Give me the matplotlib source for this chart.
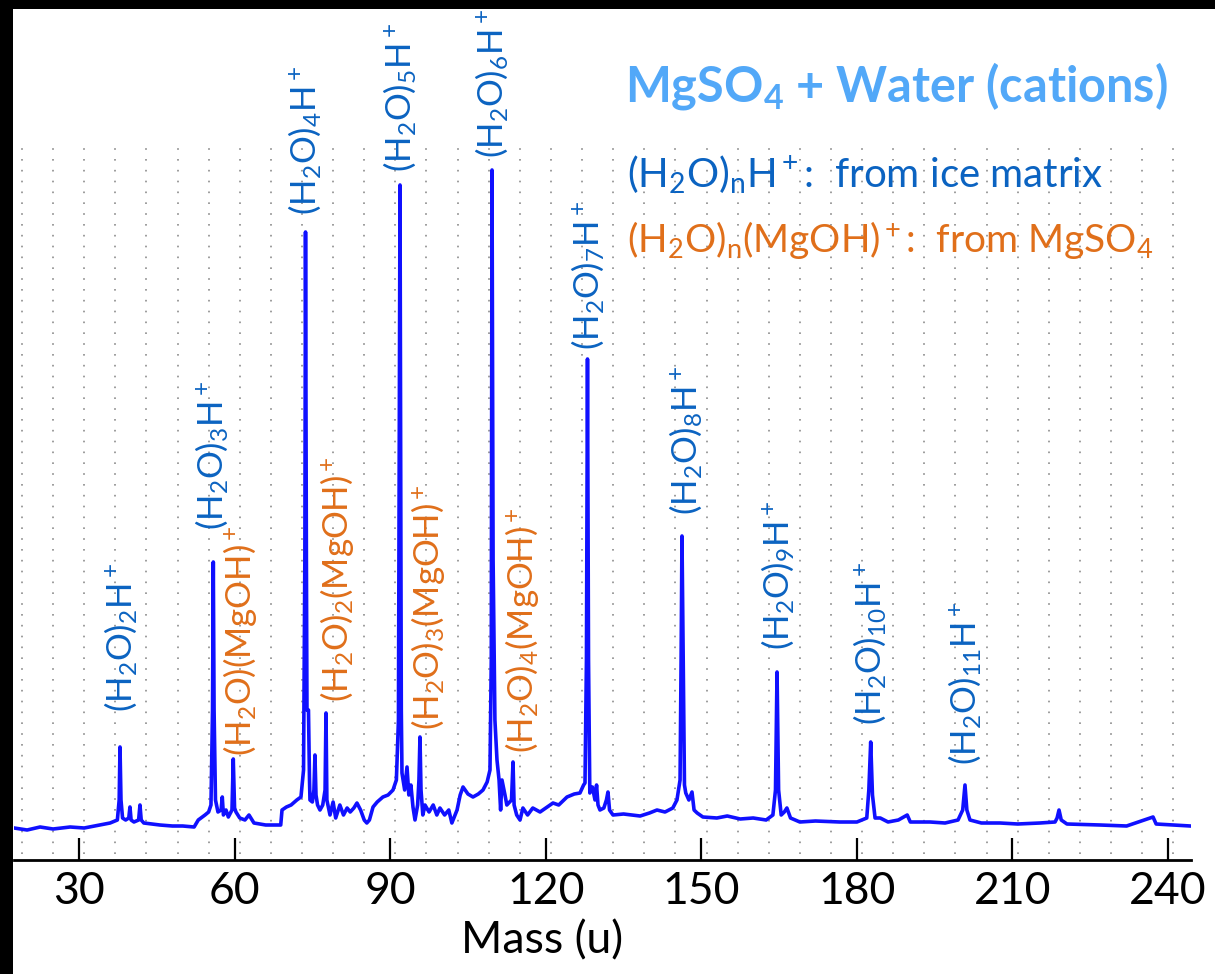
"""
MgSO4 + water ice, cation mass spectrum with labelled cluster peaks.
Output: out.png
"""

import matplotlib
matplotlib.use("Agg")
import matplotlib.pyplot as plt
from matplotlib.patches import Rectangle

plt.rcParams["font.family"] = ["Lato", "DejaVu Sans"]
plt.rcParams["mathtext.fontset"] = "custom"
plt.rcParams["mathtext.rm"] = "Lato"
plt.rcParams["mathtext.it"] = "Lato:italic"
plt.rcParams["mathtext.bf"] = "Lato:bold"
plt.rcParams["mathtext.default"] = "rm"

BLUE_TEXT = "#0b63c1"
ORANGE_TEXT = "#e06f1a"
TITLE = "#52a8f8"
TRACE = "#1010ff"
GRID = "#8c8c8c"

# spectrum trace (mass in u, intensity arb.)
trace_mass = [
    17.5, 20.0, 22.5, 25.0, 28.3, 31.0, 34.0, 36.0, 37.4, 37.75, 37.91, 38.1,
    38.4, 39.0, 39.6, 39.83, 40.05, 40.6, 41.5, 41.76, 42.0, 42.5, 45.6, 48.0,
    50.0, 52.2, 53.0, 54.3, 55.0, 55.45, 55.75, 55.9, 56.05, 56.32, 56.8, 57.4,
    57.63, 57.85, 58.35, 58.8, 59.5, 59.75, 60.0, 60.27, 61.0, 62.0, 62.78,
    63.74, 66.0, 68.9, 69.15, 70.0, 70.9, 72.0, 72.8, 73.3, 73.55, 73.68,
    73.85, 73.96, 74.25, 74.45, 74.54, 75.0, 75.3, 75.5, 75.7, 76.0, 76.47,
    77.0, 77.45, 77.63, 77.8, 78.4, 79.0, 79.5, 80.3, 81.0, 81.7, 82.3, 83.0,
    83.6, 84.3, 85.0, 85.5, 86.0, 86.7, 87.5, 88.6, 89.6, 90.55, 91.2, 91.6,
    91.9, 92.15, 92.28, 92.8, 93.25, 93.6, 94.0, 94.4, 94.79, 95.3, 95.55,
    95.75, 95.95, 96.3, 96.72, 97.5, 98.3, 99.0, 99.6, 100.5, 101.3, 101.9,
    102.9, 103.5, 104.05, 105.0, 105.97, 107.0, 107.9, 108.7, 109.25, 109.5,
    109.64, 109.85, 110.2, 110.6, 111.0, 111.3, 111.56, 112.14, 112.5, 113.4,
    113.69, 113.9, 114.4, 115.04, 115.6, 116.5, 117.5, 118.9, 120.0, 121.4,
    122.5, 124.1, 125.5, 126.6, 127.3, 127.57, 127.85, 128.05, 128.25, 128.5,
    129.0, 129.5, 129.8, 130.08, 130.46, 131.2, 131.7, 132.0, 132.3, 132.97,
    135.0, 138.2, 140.0, 141.45, 143.0, 144.5, 145.3, 145.9, 146.1, 146.27,
    146.5, 146.75, 147.0, 147.6, 148.2, 148.6, 149.2, 150.3, 153.0, 155.0,
    157.5, 160.0, 162.5, 163.8, 164.3, 164.6, 164.9, 165.4, 166.0, 166.5,
    167.2, 169.0, 172.0, 176.7, 180.0, 181.9, 182.3, 182.66, 183.0, 183.5,
    184.5, 186.0, 188.0, 189.7, 190.3, 194.1, 197.0, 199.5, 200.4, 200.84,
    201.2, 201.8, 204.0, 207.6, 211.0, 215.3, 218.2, 218.6, 218.97, 219.4,
    220.5, 226.9, 232.0, 237.1, 237.7, 241.0, 244.3,
]
trace_int = [
    32, 30, 33, 31, 33, 32, 35, 37, 40, 60, 113, 60,
    42, 40, 42, 53, 40, 38, 40, 55, 40, 37, 35, 34,
    34, 33, 40, 45, 48, 55, 150, 298, 150, 60, 48, 50,
    63, 45, 50, 43, 50, 101, 52, 48, 42, 40, 45,
    37, 35, 35, 50, 53, 55, 60, 63, 90, 300, 628,
    300, 150, 150, 80, 60, 58, 70, 105, 65, 55, 50,
    55, 70, 147, 60, 45, 58, 42, 55, 45, 52, 48, 52,
    57, 50, 40, 37, 40, 53, 58, 63, 65, 70, 80, 140,
    675, 150, 87, 70, 93, 65, 75, 53, 40, 55, 80,
    123, 70, 45, 55, 48, 55, 45, 52, 45, 50, 37,
    50, 65, 73, 66, 63, 66, 70, 78, 90, 200,
    690, 300, 140, 100, 80, 50, 80, 65, 55, 60,
    98, 55, 45, 40, 52, 45, 52, 48, 52, 57,
    55, 63, 66, 67, 75, 77, 200, 501, 200, 67,
    73, 60, 75, 55, 50, 52, 60, 68, 50, 45,
    46, 44, 47, 50, 48, 52, 60, 80, 200, 324,
    200, 75, 67, 60, 68, 50, 47, 43, 42, 44,
    41, 42, 40, 45, 70, 188, 70, 45, 48, 52,
    42, 38, 39, 38, 38, 42, 70, 118, 65, 42,
    42, 38, 40, 45, 38, 38, 37, 40, 50, 75,
    50, 40, 37, 37, 36, 37, 38, 42, 50, 40,
    36, 35, 34, 43, 36, 35, 34,
]

# peak labels: text, mass position, height of label base, which family
label_text = [
    r"(H$_2$O)$_2$H$^+$", r"(H$_2$O)$_3$H$^+$", r"(H$_2$O)(MgOH)$^+$",
    r"(H$_2$O)$_4$H$^+$", r"(H$_2$O)$_2$(MgOH)$^+$", r"(H$_2$O)$_5$H$^+$",
    r"(H$_2$O)$_3$(MgOH)$^+$", r"(H$_2$O)$_6$H$^+$", r"(H$_2$O)$_4$(MgOH)$^+$",
    r"(H$_2$O)$_7$H$^+$", r"(H$_2$O)$_8$H$^+$", r"(H$_2$O)$_9$H$^+$",
    r"(H$_2$O)$_{10}$H$^+$", r"(H$_2$O)$_{11}$H$^+$",
]
label_mass = [38.1, 55.6, 61.0, 73.6, 79.75, 91.9, 97.3, 109.6, 115.4,
              128.1, 146.9, 164.8, 182.5, 200.8]
label_base = [148, 330, 104, 645, 158, 688, 130, 702, 107,
              510, 345, 210, 135, 95]
label_kind = ["w", "w", "mg", "w", "mg", "w", "mg", "w", "mg",
              "w", "w", "w", "w", "w"]

tick_vals = [30, 60, 90, 120, 150, 180, 210, 240]
grid_vals = list(range(19, 242, 6))

W, H = 1215, 974
fig = plt.figure(figsize=(W / 100, H / 100), dpi=100, facecolor="white")
ax = fig.add_axes([14 / W, 114 / H, 1177 / W, 720 / H])
ax.set_xlim(17.47, 244.42)
ax.set_ylim(0, 720)

ax.vlines(grid_vals, 6, 720, colors=GRID, linewidth=1.2,
          linestyles=(0, (1.0, 5.5)), zorder=1)
ax.plot(trace_mass, trace_int, color=TRACE, lw=2.6, zorder=2)

for s in ("left", "right", "top"):
    ax.spines[s].set_visible(False)
ax.spines["bottom"].set_linewidth(2.0)
ax.set_yticks([])
ax.set_xticks(tick_vals)
ax.tick_params(axis="x", direction="in", length=16, width=1.6,
               pad=8, labelsize=32, colors="black")

colours = {"w": BLUE_TEXT, "mg": ORANGE_TEXT}
for txt, m, b, k in zip(label_text, label_mass, label_base, label_kind):
    ax.text(m, b, txt, rotation=90, ha="center", va="bottom",
            fontsize=25, color=colours[k], clip_on=False, zorder=3)

fig.text(625 / W, 1 - 102 / H, r"MgSO$_\mathbf{4}$ + Water (cations)",
         fontsize=35, fontweight="bold", color=TITLE, ha="left",
         va="baseline")
fig.text(627 / W, 1 - 188 / H, r"(H$_2$O)$_n$H$^+$:  from ice matrix",
         fontsize=29, color=BLUE_TEXT, ha="left", va="baseline")
fig.text(627 / W, 1 - 252 / H, r"(H$_2$O)$_n$(MgOH)$^+$:  from MgSO$_4$",
         fontsize=28, color=ORANGE_TEXT, ha="left", va="baseline")
fig.text(542 / W, 1 - 953 / H, "Mass (u)", fontsize=32, color="black",
         ha="center", va="baseline")

# black frame edges on top and left
fig.add_artist(Rectangle((0, 1 - 9 / H), 1, 9 / H, transform=fig.transFigure,
                         facecolor="black", edgecolor="none", zorder=10))
fig.add_artist(Rectangle((0, 0), 13 / W, 1, transform=fig.transFigure,
                         facecolor="black", edgecolor="none", zorder=10))

fig.savefig("out.png", dpi=100, facecolor="white")
